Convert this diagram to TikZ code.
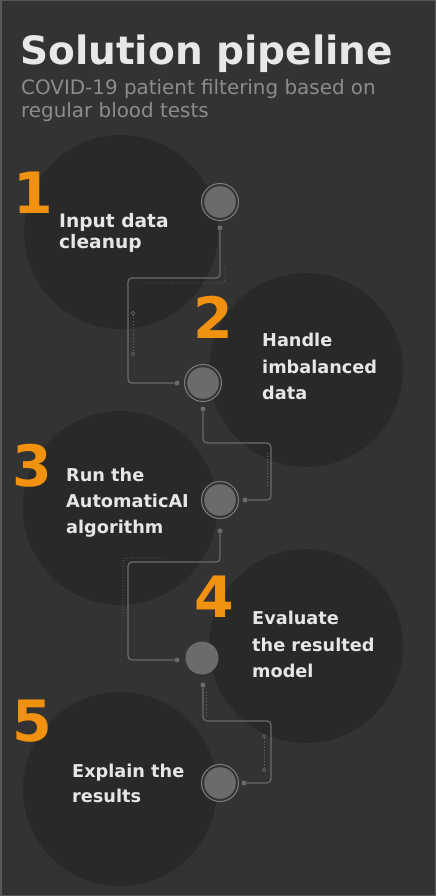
\documentclass[tikz,border=0pt]{standalone}
\usepackage{fontspec}
\setmainfont{DejaVu Sans}
\definecolor{bgc}{HTML}{333333}
\definecolor{framec}{HTML}{585858}
\definecolor{bigc}{HTML}{292929}
\definecolor{dotc}{HTML}{6B6B6B}
\definecolor{ringc}{HTML}{7E7E7E}
\definecolor{linec}{HTML}{6A6A6A}
\definecolor{numc}{HTML}{F0920F}
\definecolor{titlec}{HTML}{E8E8E8}
\definecolor{subc}{HTML}{8C8C8C}
\definecolor{labc}{HTML}{E6E6E6}
\begin{document}
\begin{tikzpicture}[x=1pt,y=-1pt,
  bigcirc/.style={circle,fill=bigc,minimum size=194pt,inner sep=0},
  ringcirc/.style={circle,draw=ringc,line width=1pt,fill=bgc,minimum size=37pt,inner sep=0,
     path picture={\fill[dotc] (path picture bounding box.center) circle[radius=15.8pt];}},
  plaincirc/.style={circle,fill=dotc,minimum size=33pt,inner sep=0},
  conn/.style={draw=linec,line width=1.2pt,rounded corners=4pt},
  accent/.style={draw=linec,line width=0.9pt,dotted,rounded corners=3pt},
  enddot/.style={circle,fill=linec,minimum size=5pt,inner sep=0},
  tick/.style={circle,draw=linec,line width=0.7pt,minimum size=3.5pt,inner sep=0},
  numtxt/.style={anchor=base west,inner sep=0,text=numc,font=\bfseries\fontsize{57}{57}\selectfont},
  labtxt/.style={anchor=base west,inner sep=0,text=labc,font=\bfseries\fontsize{17.7}{21}\selectfont},
  labbig/.style={labtxt,font=\bfseries\fontsize{18.6}{21}\selectfont},
  titletxt/.style={anchor=base west,inner sep=0,text=titlec,font=\bfseries\fontsize{39}{44}\selectfont},
  subtxt/.style={anchor=base west,inner sep=0,text=subc,font=\fontsize{19.9}{23}\selectfont}
]
\useasboundingbox (0,0) rectangle (436,896);
\fill[bgc] (0,0) rectangle (436,896);
\draw[framec,line width=1.5pt] (0.75,0.75) rectangle (435.25,895.25);

% big background circles
\node[bigcirc] (b1) at (121,232) {};
\node[bigcirc] (b2) at (306,370) {};
\node[bigcirc] (b3) at (120,508) {};
\node[bigcirc] (b4) at (306,646) {};
\node[bigcirc] (b5) at (120,789) {};

% step circles
\node[ringcirc] (c1) at (220,202) {};
\node[ringcirc] (c2) at (203,383) {};
\node[ringcirc] (c3) at (220,500) {};
\node[plaincirc] (c4) at (202,658) {};
\node[ringcirc] (c5) at (220,783) {};

% connector end dots
\node[enddot] (d1a) at (220,228) {};
\node[enddot] (d1b) at (177,383) {};
\node[enddot] (d2a) at (203,409) {};
\node[enddot] (d2b) at (245,500) {};
\node[enddot] (d3a) at (220,531) {};
\node[enddot] (d3b) at (177,660) {};
\node[enddot] (d4a) at (203,685) {};
\node[enddot] (d4b) at (244,783) {};

% connectors
\draw[conn] (d1a) -- ++(0,50) -| ++(-92,105) -- (d1b);
\draw[conn] (d2a) -- ++(0,34) -| ++(68,57) -- (d2b);
\draw[conn] (d3a) -- ++(0,31) -| ++(-92,98) -- (d3b);
\draw[conn] (d4a) -- ++(0,36) -| ++(68,62) -- (d4b);

% dotted accents
\coordinate (a1s) at (225,266);
\coordinate (a1e) at (143,283);
\draw[accent] (a1s) |- (a1e);
\node[tick] (k1a) at (133,313) {};
\node[tick] (k1b) at (133,354) {};
\draw[accent,rounded corners=0] (k1a) -- (k1b);
\coordinate (a2s) at (267,453);
\coordinate (a2e) at (267,485);
\draw[accent] (a2s) -- (a2e);
\coordinate (a3s) at (163,558);
\coordinate (a3e) at (123,630);
\draw[accent] (a3s) -| (a3e);
\node[tick] (k4a) at (264,736) {};
\node[tick] (k4b) at (264,770) {};
\draw[accent,rounded corners=0] (k4a) -- (k4b);
\coordinate (a4s) at (206,692);
\coordinate (a4e) at (206,718);
\draw[accent] (a4s) -- (a4e);

% title
\node[titletxt] (title) at (20,65) {Solution pipeline};
\node[subtxt] (sub1) at (21,95) {COVID-19 patient filtering based on};
\node[subtxt] (sub2) at (21,118) {regular blood tests};

% numbers
\node[numtxt] (n1) at (13,213) {1};
\node[numtxt] (n2) at (193,338) {2};
\node[numtxt] (n3) at (12,486) {3};
\node[numtxt] (n4) at (194,617) {4};
\node[numtxt] (n5) at (12,741) {5};

% labels
\node[labbig] (l1a) at (59,227) {Input data};
\node[labbig] (l1b) at (59,248) {cleanup};
\node[labtxt] (l2a) at (262,346) {Handle};
\node[labtxt] (l2b) at (262,373) {imbalanced};
\node[labtxt] (l2c) at (262,399) {data};
\node[labtxt] (l3a) at (66,481) {Run the};
\node[labtxt] (l3b) at (66,507) {AutomaticAI};
\node[labtxt] (l3c) at (66,533) {algorithm};
\node[labtxt] (l4a) at (252,624) {Evaluate};
\node[labtxt] (l4b) at (252,651) {the resulted};
\node[labtxt] (l4c) at (252,677) {model};
\node[labtxt] (l5a) at (72,777) {Explain the};
\node[labtxt] (l5b) at (72,802) {results};
\end{tikzpicture}
\end{document}
